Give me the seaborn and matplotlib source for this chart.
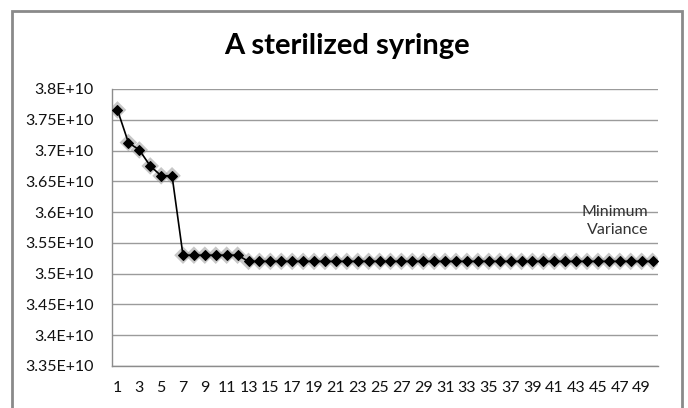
import matplotlib
matplotlib.use("Agg")
import matplotlib.pyplot as plt
import matplotlib.ticker as mticker
from matplotlib.patches import Rectangle
import seaborn as sns
import pandas as pd

# iteration number (category axis 1..50) and variance values
iterations = list(range(1, 51))
variance = [3.766e10, 3.713e10, 3.701e10, 3.675e10, 3.659e10, 3.659e10,
            3.530e10, 3.530e10, 3.530e10, 3.530e10, 3.530e10, 3.530e10,
            3.520e10, 3.520e10, 3.520e10, 3.520e10, 3.520e10, 3.520e10,
            3.520e10, 3.520e10, 3.520e10, 3.520e10, 3.520e10, 3.520e10,
            3.520e10, 3.520e10, 3.520e10, 3.520e10, 3.520e10, 3.520e10,
            3.520e10, 3.520e10, 3.520e10, 3.520e10, 3.520e10, 3.520e10,
            3.520e10, 3.520e10, 3.520e10, 3.520e10, 3.520e10, 3.520e10,
            3.520e10, 3.520e10, 3.520e10, 3.520e10, 3.520e10, 3.520e10,
            3.520e10, 3.520e10]
y_ticks = [3.35e10, 3.4e10, 3.45e10, 3.5e10, 3.55e10, 3.6e10, 3.65e10,
           3.7e10, 3.75e10, 3.8e10]
x_tick_labels = list(range(1, 50, 2))
title = "A sterilized syringe"
note = "Minimum\nVariance"

df = pd.DataFrame({"iteration": iterations, "variance": variance})

sns.set_theme(style="white")
plt.rcParams['font.family'] = ['Lato', 'DejaVu Sans']

fig = plt.figure(figsize=(6.88, 4.08), dpi=100)
ax = fig.add_axes([112 / 688, 1 - 366 / 408, 546 / 688, 277 / 408])

# soft grey glow behind the markers
sns.scatterplot(data=df, x="iteration", y="variance", marker="D", s=80,
                color="#9a9a9a", alpha=0.55, edgecolor="none", ax=ax, zorder=2)
sns.lineplot(data=df, x="iteration", y="variance", color="black", linewidth=1.2,
             marker="D", markersize=5.5, markeredgecolor="black",
             markerfacecolor="black", ax=ax, zorder=3)

ax.set_xlim(0.5, 50.5)
ax.set_ylim(3.35e10, 3.8e10)
ax.set_yticks(y_ticks)
ax.yaxis.set_major_formatter(mticker.FuncFormatter(lambda v, p: f"{v / 1e10:g}E+10"))
ax.set_xticks(x_tick_labels)
ax.set_xticklabels([str(v) for v in x_tick_labels])
ax.grid(axis="y", color="#9b9b9b", linewidth=1.0)
ax.set_axisbelow(True)
ax.tick_params(axis="both", length=0, labelsize=11.5, colors="#111111")
ax.tick_params(axis="y", pad=13)
ax.tick_params(axis="x", pad=10.5)
ax.set_xlabel("")
ax.set_ylabel("")
for side in ["top", "right"]:
    ax.spines[side].set_visible(False)
for side in ["left", "bottom"]:
    ax.spines[side].set_color("#8c8c8c")
    ax.spines[side].set_linewidth(1.0)

ax.text(49.6, 3.585e10, note, ha="right", va="center", fontsize=11.5,
        color="#333333", linespacing=1.35, zorder=4)

fig.text(347 / 688, 1 - 46 / 408, title, ha="center", va="center",
         fontsize=21, fontweight="bold", color="black")

# outer chart frame
fig.patches.append(Rectangle((12 / 688, -0.05), 670 / 688, 1.05 - 11 / 408,
                             transform=fig.transFigure, fill=False,
                             edgecolor="#8a8a8a", linewidth=2.0))

fig.savefig("out.png", dpi=100)
